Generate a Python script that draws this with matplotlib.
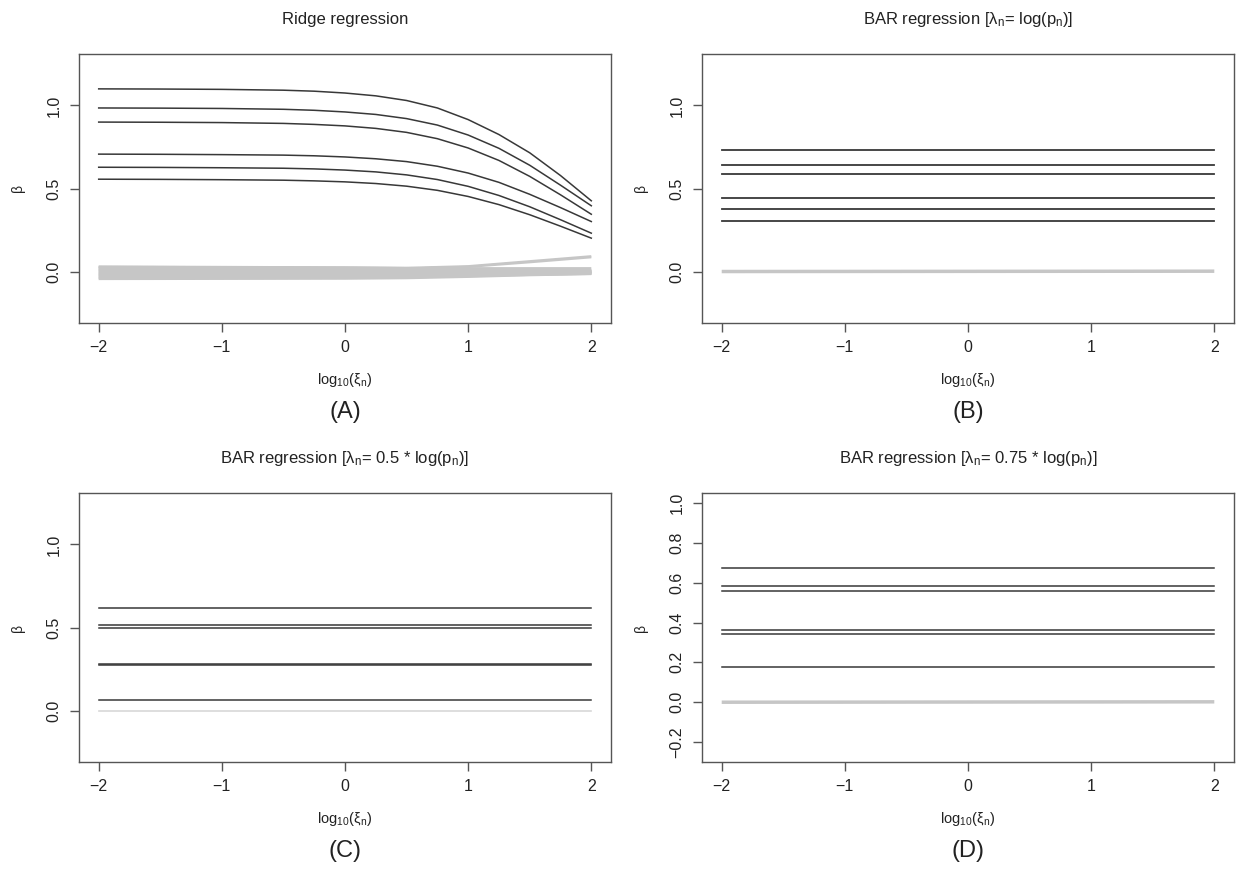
import matplotlib
matplotlib.use('Agg')
import matplotlib.pyplot as plt
import numpy as np

plt.rcParams['font.family'] = ['Liberation Sans', 'DejaVu Sans']
plt.rcParams['mathtext.fontset'] = 'custom'
plt.rcParams['mathtext.rm'] = 'Liberation Sans'
plt.rcParams['mathtext.it'] = 'Liberation Sans'

# --- data ---
# (A) ridge paths, x = log10(xi_n)
ridge_x = [-2, -1.5, -1, -0.5, -0.25, 0, 0.25, 0.5, 0.75, 1, 1.25, 1.5, 1.75, 2]
ridge_b1 = [1.100, 1.099, 1.097, 1.092, 1.086, 1.075, 1.058, 1.030, 0.985, 0.915, 0.825, 0.715, 0.578, 0.426]
ridge_b2 = [0.985, 0.984, 0.982, 0.977, 0.971, 0.961, 0.946, 0.921, 0.882, 0.822, 0.742, 0.640, 0.520, 0.396]
ridge_b3 = [0.900, 0.899, 0.897, 0.892, 0.886, 0.877, 0.862, 0.838, 0.800, 0.744, 0.669, 0.573, 0.462, 0.345]
ridge_b4 = [0.707, 0.706, 0.704, 0.701, 0.697, 0.690, 0.679, 0.662, 0.634, 0.593, 0.537, 0.465, 0.385, 0.301]
ridge_b5 = [0.628, 0.627, 0.625, 0.622, 0.618, 0.611, 0.600, 0.582, 0.554, 0.513, 0.458, 0.390, 0.312, 0.231]
ridge_b6 = [0.556, 0.555, 0.553, 0.550, 0.546, 0.540, 0.530, 0.514, 0.489, 0.452, 0.403, 0.342, 0.273, 0.201]
ridge_x0 = [-2, 0, 0.5, 1, 1.5, 2]
ridge_zero = [
    [0.030, 0.025, 0.022, 0.032, 0.062, 0.092],
    [0.025, 0.020, 0.018, 0.028, 0.056, 0.086],
    [0.028, 0.024, 0.021, 0.020, 0.020, 0.020],
    [0.020, 0.015, 0.012, 0.010, 0.010, 0.010],
    [0.015, 0.010, 0.008, 0.007, 0.006, 0.006],
    [0.010, 0.006, 0.005, 0.004, 0.004, 0.004],
    [0.005, 0.002, 0.001, 0.001, 0.001, 0.002],
    [0.000, -0.002, -0.002, -0.002, -0.001, 0.000],
    [-0.005, -0.006, -0.005, -0.004, -0.003, -0.002],
    [-0.010, -0.010, -0.009, -0.007, -0.005, -0.004],
    [-0.015, -0.014, -0.012, -0.010, -0.007, -0.006],
    [-0.020, -0.018, -0.016, -0.013, -0.010, -0.008],
    [-0.025, -0.023, -0.020, -0.016, -0.012, -0.010],
    [-0.030, -0.028, -0.025, -0.020, -0.015, -0.012],
    [-0.035, -0.033, -0.030, -0.024, -0.018, -0.013],
    [-0.040, -0.038, -0.035, -0.028, -0.020, -0.014],
    [-0.045, -0.043, -0.040, -0.032, -0.022, -0.015],
]

# (B), (C), (D) BAR paths are flat over xi_n
bar_x = [-2, 2]
bar_B = [0.734, 0.644, 0.588, 0.445, 0.376, 0.304]
bar_C = [0.616, 0.514, 0.499, 0.278, 0.274, 0.064]
bar_D = [0.676, 0.584, 0.557, 0.362, 0.343, 0.179]
bar_zero = [0.0, 0.002]

titles = ['Ridge regression',
          r'BAR regression [$\mathregular{λ_n}$= log($\mathregular{p_n}$)]',
          r'BAR regression [$\mathregular{λ_n}$= 0.5 * log($\mathregular{p_n}$)]',
          r'BAR regression [$\mathregular{λ_n}$= 0.75 * log($\mathregular{p_n}$)]']
panel_labels = ['(A)', '(B)', '(C)', '(D)']

dark = '#383838'
light = '#c6c6c6'
frame = '#555555'

fig = plt.figure(figsize=(12.37, 8.69), dpi=100)
W, H = 1237, 869
boxes = [(79, 54), (702, 54), (79, 493), (702, 493)]
bw, bh = 532, 269
axs = [fig.add_axes([l / W, 1 - (t + bh) / H, bw / W, bh / H]) for l, t in boxes]

# A
ax = axs[0]
for row in ridge_zero:
    ax.plot(ridge_x0, row, color=light, lw=1.6, solid_capstyle='butt')
for b in [ridge_b1, ridge_b2, ridge_b3, ridge_b4, ridge_b5, ridge_b6]:
    ax.plot(ridge_x, b, color=dark, lw=1.1)

# B
ax = axs[1]
ax.plot(bar_x, bar_zero, color=light, lw=2.5, solid_capstyle='butt')
for v in bar_B:
    ax.plot(bar_x, [v, v], color=dark, lw=1.3)

# C
ax = axs[2]
ax.plot(bar_x, [0, 0], color='#d8d8d8', lw=1.2)
for v in bar_C:
    ax.plot(bar_x, [v, v], color=dark, lw=1.1)

# D
ax = axs[3]
ax.plot(bar_x, bar_zero, color=light, lw=2.5, solid_capstyle='butt')
for v in bar_D:
    ax.plot(bar_x, [v, v], color=dark, lw=1.1)

for i, ax in enumerate(axs):
    ax.set_xlim(-2.16, 2.16)
    if i == 3:
        ax.set_ylim(-0.3, 1.05)
        yt = [-0.2, 0.0, 0.2, 0.4, 0.6, 0.8, 1.0]
    else:
        ax.set_ylim(-0.31, 1.31)
        yt = [0.0, 0.5, 1.0]
    ax.set_yticks(yt)
    ax.set_yticklabels(['%.1f' % t if t >= 0 else '\u2212%.1f' % -t for t in yt],
                       rotation=90, va='center')
    ax.set_xticks([-2, -1, 0, 1, 2])
    ax.set_xticklabels(['\u22122', '\u22121', '0', '1', '2'])
    ax.tick_params(length=6.5, width=1.0, color=frame, labelsize=11.5,
                   labelcolor='#222222', pad=6)
    for s in ax.spines.values():
        s.set_color(frame)
        s.set_linewidth(1.0)
    ax.annotate(titles[i], (0.5, 1), xycoords='axes fraction', xytext=(0, 24.5),
                textcoords='offset points', ha='center', va='center', fontsize=12,
                color='#222222')
    ax.annotate(r'$\mathregular{log_{10}(ξ_n)}$', (0.5, 0), xycoords='axes fraction',
                xytext=(0, -41), textcoords='offset points', ha='center', va='center',
                fontsize=10.5, color='#222222')
    ax.annotate(panel_labels[i], (0.5, 0), xycoords='axes fraction', xytext=(0, -64),
                textcoords='offset points', ha='center', va='center', fontsize=17,
                color='#222222')
    ax.annotate('β', (0, 0.5), xycoords='axes fraction', xytext=(-44, 0),
                textcoords='offset points', ha='center', va='center', fontsize=10,
                rotation=90, color='#222222')

fig.savefig('out.png', dpi=100)
